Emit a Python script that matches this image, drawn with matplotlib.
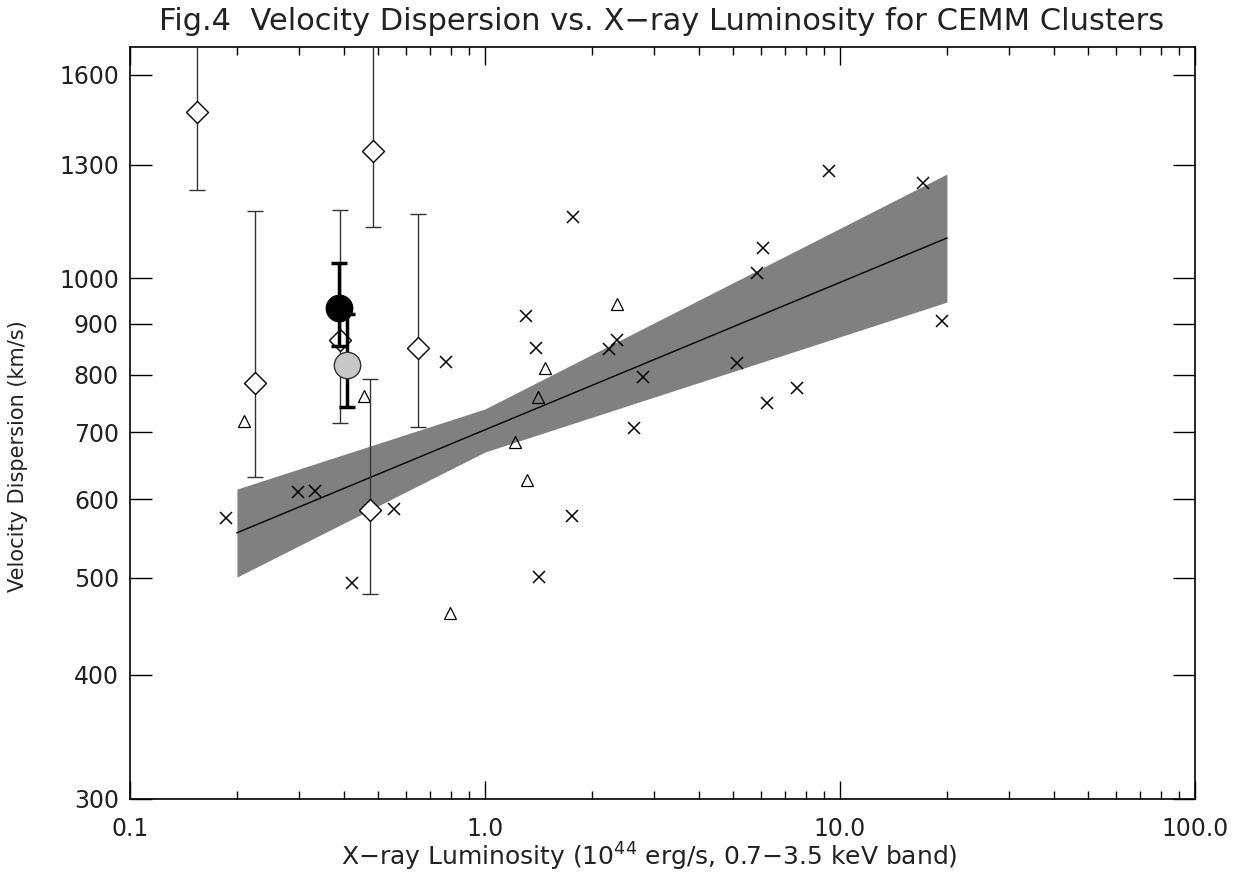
import matplotlib.pyplot as plt
from matplotlib.ticker import FixedLocator, NullFormatter, LogLocator, FixedFormatter

# clusters with velocity dispersion from literature (crosses)
lx_cross = [0.186, 0.297, 0.332, 0.422, 0.554, 0.776, 1.305, 1.392, 1.770, 1.759,
            1.419, 2.235, 2.354, 2.787, 2.629, 5.13, 5.84, 6.07, 6.23, 7.57,
            9.31, 17.1, 19.4]
sig_cross = [574, 610, 611, 494, 586, 824, 916, 851, 1151, 577,
             501, 849, 867, 796, 707, 822, 1012, 1072, 749, 775,
             1281, 1246, 905]

# triangles
lx_tri = [0.2095, 0.456, 0.797, 1.215, 1.313, 1.410, 1.476, 2.354]
sig_tri = [719, 761, 461, 684, 627, 760, 812, 942]

# CEMM clusters (diamonds with error bars)
lx_cemm = [0.1545, 0.4835, 0.2249, 0.6476, 0.474, 0.3905]
sig_cemm = [1468, 1341, 785, 851, 585, 867]
sig_cemm_lo = [1226, 1125, 631, 709, 482, 715]
sig_cemm_hi = [1900, 1900, 1168, 1160, 792, 1170]

# filled circles
lx_black, sig_black, black_lo, black_hi = 0.388, 933, 854, 1035
lx_gray, sig_gray, gray_lo, gray_hi = 0.4087, 818, 742, 920

# fit and confidence band
fit_x = [0.2, 20.0]
fit_y = [555, 1097]
band_x = [0.2, 1.0, 20.0]
band_lo = [501, 669, 946]
band_hi = [614, 739, 1272]

yticks = [300, 400, 500, 600, 700, 800, 900, 1000, 1300, 1600]
xticks = [0.1, 1.0, 10.0, 100.0]
xtick_labels = ['0.1', '1.0', '10.0', '100.0']

plt.rcParams['font.family'] = ['DejaVu Sans']
fig = plt.figure(figsize=(12.42, 8.75), dpi=100)
ax = fig.add_axes([0.1047, 0.0869, 0.8575, 0.8594])
ax.set_xscale('log')
ax.set_yscale('log')

ax.fill_between(band_x, band_lo, band_hi, color='#808080', lw=0, zorder=1)
ax.plot(fit_x, fit_y, color='black', lw=1, zorder=2)

ax.plot(lx_cross, sig_cross, 'x', color='black', ms=9, mew=1.1, zorder=3)
ax.plot(lx_tri, sig_tri, '^', mfc='none', mec='black', ms=8, mew=0.9, zorder=3)

for x, y, lo, hi in zip(lx_cemm, sig_cemm, sig_cemm_lo, sig_cemm_hi):
    ax.errorbar([x], [y], yerr=[[y - lo], [hi - y]], fmt='none', ecolor='#333333',
                elinewidth=1, capsize=6, capthick=1, zorder=4)
ax.plot(lx_cemm, sig_cemm, 'D', mfc='white', mec='black', ms=11.5, mew=1, zorder=5)

ax.errorbar([lx_black], [sig_black], yerr=[[sig_black - black_lo], [black_hi - sig_black]],
            fmt='none', ecolor='black', elinewidth=2.5, capsize=6, capthick=2.5, zorder=6)
ax.plot([lx_black], [sig_black], 'o', mfc='black', mec='black', ms=19, zorder=7)
ax.errorbar([lx_gray], [sig_gray], yerr=[[sig_gray - gray_lo], [gray_hi - sig_gray]],
            fmt='none', ecolor='black', elinewidth=2.5, capsize=6, capthick=2.5, zorder=6)
ax.plot([lx_gray], [sig_gray], 'o', mfc='#c8c8c8', mec='#333333', mew=1, ms=19, zorder=7)

ax.set_xlim(0.1, 100)
ax.set_ylim(300, 1706)

ax.xaxis.set_major_locator(FixedLocator(xticks))
ax.xaxis.set_major_formatter(FixedFormatter(xtick_labels))
ax.xaxis.set_minor_locator(LogLocator(base=10, subs=range(2, 10)))
ax.xaxis.set_minor_formatter(NullFormatter())
ax.yaxis.set_major_locator(FixedLocator(yticks))
ax.yaxis.set_major_formatter(FixedFormatter([str(v) for v in yticks]))
ax.yaxis.set_minor_locator(FixedLocator([]))

ax.tick_params(which='both', direction='in', top=True, right=True, width=1, labelsize=17,
               labelcolor='#222222')
ax.tick_params(axis='x', which='major', length=13, pad=13)
ax.tick_params(axis='x', which='minor', length=6)
ax.tick_params(axis='y', which='major', length=16, pad=8)
for s in ax.spines.values():
    s.set_linewidth(1.2)

fig.text(0.523, 0.021, 'X\u2212ray Luminosity (10$^{44}$ erg/s, 0.7\u22123.5 keV band)',
         ha='center', va='center', fontsize=18, color='#222222')
fig.text(0.0145, 0.479, 'Velocity Dispersion (km/s)', rotation=90,
         ha='center', va='center', fontsize=15, color='#222222')
fig.text(0.533, 0.975, 'Fig.4  Velocity Dispersion vs. X\u2212ray Luminosity for CEMM Clusters',
         ha='center', va='center', fontsize=22, color='#222222')

fig.savefig('out.png', dpi=100)
